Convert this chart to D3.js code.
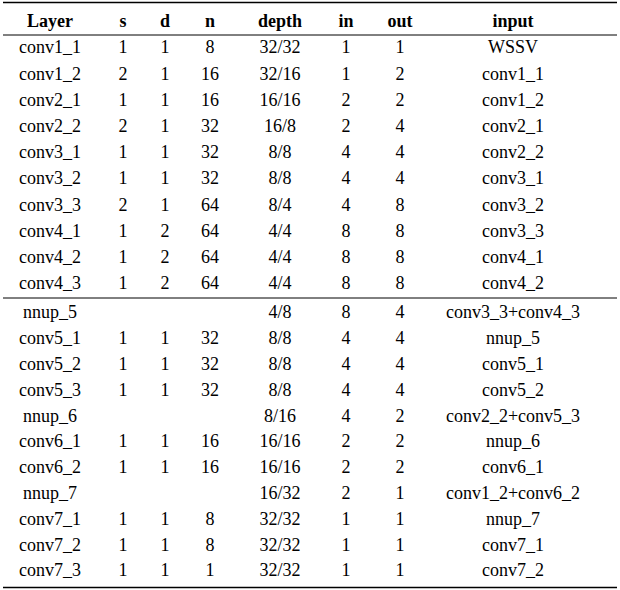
<!DOCTYPE html>
<html><head><meta charset="utf-8">
<script src="https://cdn.jsdelivr.net/npm/d3@7"></script>
<style>body{margin:0;background:#fff}</style>
</head><body><div id="tbl"></div>
<script>
// table content
var headers = ["Layer", "s", "d", "n", "depth", "in", "out", "input"];
var layers = ["conv1_1","conv1_2","conv2_1","conv2_2","conv3_1","conv3_2","conv3_3","conv4_1","conv4_2","conv4_3",
  "nnup_5","conv5_1","conv5_2","conv5_3","nnup_6","conv6_1","conv6_2","nnup_7","conv7_1","conv7_2","conv7_3"];
var sVals = ["1","2","1","2","1","1","2","1","1","1","","1","1","1","","1","1","","1","1","1"];
var dVals = ["1","1","1","1","1","1","1","2","2","2","","1","1","1","","1","1","","1","1","1"];
var nVals = ["8","16","16","32","32","32","64","64","64","64","","32","32","32","","16","16","","8","8","1"];
var depthVals = ["32/32","32/16","16/16","16/8","8/8","8/8","8/4","4/4","4/4","4/4","4/8","8/8","8/8","8/8","8/16","16/16","16/16","16/32","32/32","32/32","32/32"];
var inVals = ["1","1","2","2","4","4","4","8","8","8","8","4","4","4","4","2","2","2","1","1","1"];
var outVals = ["1","2","2","4","4","4","8","8","8","8","4","4","4","4","2","2","2","1","1","1","1"];
var inputVals = ["WSSV","conv1_1","conv1_2","conv2_1","conv2_2","conv3_1","conv3_2","conv3_3","conv4_1","conv4_2",
  "conv3_3+conv4_3","nnup_5","conv5_1","conv5_2","conv2_2+conv5_3","nnup_6","conv6_1","conv1_2+conv6_2","nnup_7","conv7_1","conv7_2"];

var columns = [layers, sVals, dVals, nVals, depthVals, inVals, outVals, inputVals];
var colCenters = [50, 123, 165, 210, 280, 346, 400, 513];
var splitAfter = 10;

var svg = d3.select("#tbl").append("svg").attr("width", 620).attr("height", 590)
  .style("font-family", "'Liberation Serif', 'DejaVu Serif', serif").style("font-size", "18px");

var x = d3.scaleOrdinal().domain(d3.range(headers.length)).range(colCenters);
var yTop = d3.scaleLinear().domain([0, 9]).range([47, 283]);
var yBot = d3.scaleLinear().domain([10, 20]).range([312, 570]);
function y(i) { return i < splitAfter ? yTop(i) : yBot(i); }

svg.selectAll("text.h").data(headers).enter().append("text")
  .attr("x", function(d, i) { return x(i); }).attr("y", 21).attr("dy", "0.35em")
  .attr("text-anchor", "middle").style("font-weight", "bold").text(function(d) { return d; });

columns.forEach(function(col, c) {
  svg.selectAll("text.c" + c).data(col).enter().append("text")
    .attr("x", x(c)).attr("y", function(d, i) { return y(i); }).attr("dy", "0.35em")
    .attr("text-anchor", "middle").text(function(d) { return d; });
});

var rules = [{y: 2.5, w: 1.6}, {y: 35, w: 1}, {y: 298, w: 1}, {y: 587.5, w: 1.6}];
svg.selectAll("line").data(rules).enter().append("line")
  .attr("x1", 3).attr("x2", 617).attr("y1", function(d) { return d.y; }).attr("y2", function(d) { return d.y; })
  .attr("stroke", "#000").attr("stroke-width", function(d) { return d.w; });
</script>
</body></html>
